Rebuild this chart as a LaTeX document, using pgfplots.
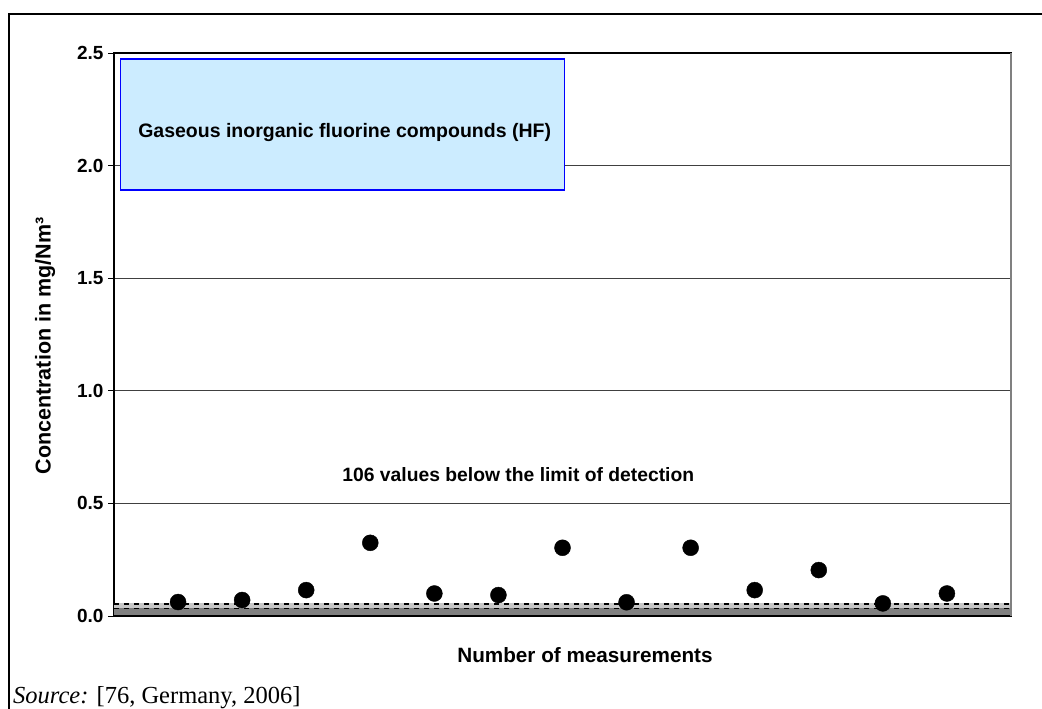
\documentclass[border=0pt]{standalone}
\usepackage{fontspec}
\setmainfont{Liberation Sans}
\newfontfamily\timesf{Liberation Serif}
\usepackage{pgfplots}
\pgfplotsset{compat=1.18}
\definecolor{boxfill}{RGB}{204,236,255}
\definecolor{darkband}{RGB}{128,128,128}
\definecolor{lightband}{RGB}{200,200,200}
\begin{document}
\begin{tikzpicture}
\useasboundingbox (0pt,0pt) rectangle (1042pt,-709pt);
% outer frame (left and top edges)
\draw[line width=2pt,black] (9pt,-720pt) -- (9pt,-14pt) -- (1050pt,-14pt);
\begin{axis}[
  at={(114pt,-616pt)}, anchor=south west,
  width=897pt, height=563pt, scale only axis,
  xmin=0, xmax=14, ymin=0, ymax=2.5,
  xtick=\empty,
  ytick={0,0.5,1,1.5,2,2.5},
  ytick pos=left,
  tick align=outside,
  major tick length=6pt,
  tick style={black, line width=1pt},
  yticklabel style={/pgf/number format/fixed, /pgf/number format/fixed zerofill, /pgf/number format/precision=1, /pgf/number format/assume math mode=true,
    font=\fontsize{19}{20}\selectfont\bfseries, xshift=-1pt},
  ymajorgrids,
  grid style={black!75, line width=1pt},
  axis line style={black, line width=1.5pt},
  clip=false,
]
% detection-limit bands
\addplot[draw=none, fill=darkband] coordinates {(0,0) (14,0) (14,0.034) (0,0.034)} -- cycle;
\addplot[draw=none, fill=lightband] coordinates {(0,0.034) (14,0.034) (14,0.058) (0,0.058)} -- cycle;
\addplot[black, line width=1.5pt, dash pattern=on 5pt off 5pt] coordinates {(0,0.054) (14,0.054)};
\addplot[black, line width=1pt, dash pattern=on 5pt off 5pt] coordinates {(0,0.034) (14,0.034)};
\addplot[black, line width=2.5pt] coordinates {(0,0) (14,0)};
\addplot[gray, line width=1.5pt] coordinates {(14,0) (14,2.5)};
% measurements
\addplot[only marks, mark=*, mark size=8pt, mark options={fill=black, draw=black}] coordinates {
(1,0.062) (2,0.071) (3,0.115) (4,0.325) (5,0.100) (6,0.093) (7,0.303)
(8,0.061) (9,0.303) (10,0.115) (11,0.204) (12,0.056) (13,0.100)};
% annotation box
\draw[blue, line width=1.5pt, fill=boxfill] (axis cs:0.1,2.473) rectangle (axis cs:7.03,1.892);
\node[font=\fontsize{19.5}{22}\selectfont\bfseries] at (axis cs:3.6,2.145) {Gaseous inorganic fluorine compounds (HF)};
\node[font=\fontsize{19.3}{22}\selectfont\bfseries] at (axis cs:6.31,0.626) {106 values below the limit of detection};
\end{axis}
\node[font=\fontsize{20.7}{22}\selectfont\bfseries] at (585pt,-655pt) {Number of measurements};
\node[font=\fontsize{21.5}{22}\selectfont\bfseries, rotate=90] at (45pt,-346pt) {Concentration in mg/Nm³};
\node[font=\timesf\fontsize{24.5}{28}\selectfont, anchor=base west, inner sep=0pt] at (13pt,-703pt) {\textit{Source:} [76, Germany, 2006]};
\end{tikzpicture}
\end{document}
